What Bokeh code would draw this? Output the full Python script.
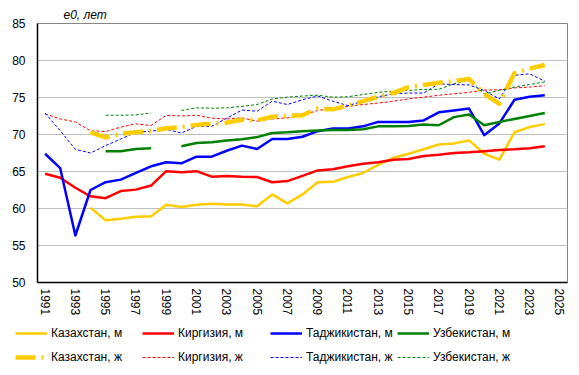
import numpy as np
from bokeh.plotting import figure
from bokeh.layouts import column
from bokeh.models import Range1d, FixedTicker, Legend, LegendItem
from bokeh.embed import file_html
from bokeh.resources import INLINE

nan = float("nan")

years = list(range(1991, 2025))
tick_years = list(range(1991, 2026, 2))
tick_labels = [str(y) for y in tick_years]
y_ticks = [50, 55, 60, 65, 70, 75, 80, 85]

# Male life expectancy
kaz_m = [nan, nan, nan, 60.1, 58.4, 58.6, 58.9, 58.95, 60.5, 60.2, 60.5, 60.65,
         60.55, 60.55, 60.3, 61.9, 60.7, 61.9, 63.55, 63.6, 64.25, 64.8, 65.9,
         66.85, 67.4, 68.0, 68.65, 68.8, 69.2, 67.4, 66.6, 70.3, 71.0, 71.4]
kir_m = [64.7, 64.15, 62.8, 61.65, 61.4, 62.35, 62.55, 63.1, 65.05, 64.9, 65.05, 64.3,
         64.4, 64.3, 64.25, 63.55, 63.7, 64.4, 65.15, 65.3, 65.7, 66.05, 66.25,
         66.6, 66.7, 67.1, 67.25, 67.5, 67.6, 67.75, 67.9, 68.0, 68.15, 68.4]
taj_m = [67.4, 65.45, 56.35, 62.5, 63.55, 63.9, 64.8, 65.7, 66.25, 66.1, 67.0, 67.0,
         67.8, 68.5, 68.05, 69.4, 69.4, 69.7, 70.45, 70.8, 70.8, 71.1, 71.7,
         71.7, 71.7, 71.9, 73.0, 73.25, 73.5, 69.9, 71.5, 74.7, 75.1, 75.3]
uzb_m = [nan, nan, nan, nan, 67.75, 67.75, 68.05, 68.15, nan, 68.4, 68.85, 68.95,
         69.2, 69.35, 69.65, 70.2, 70.3, 70.45, 70.55, 70.6, 70.6, 70.7, 71.1,
         71.1, 71.15, 71.35, 71.25, 72.35, 72.7, 71.25, 71.7, 72.1, 72.5, 72.9]

# Female life expectancy
kaz_f = [nan, nan, nan, 70.3, 69.6, 70.1, 70.3, 70.45, 70.85, 71.0, 71.3, 71.45,
         71.6, 72.0, 71.9, 72.4, 72.5, 72.6, 73.5, 73.4, 73.9, 74.5, 75.1,
         75.6, 76.4, 76.7, 77.0, 77.2, 77.5, 75.5, 74.15, 78.3, 78.9, 79.4]
kir_f = [72.8, 72.1, 71.7, 70.5, 70.4, 71.0, 71.45, 71.2, 72.6, 72.5, 72.6, 72.2,
         72.1, 72.25, 71.8, 72.1, 72.25, 72.6, 73.25, 73.5, 73.8, 74.05, 74.25,
         74.5, 74.8, 75.05, 75.3, 75.5, 75.7, 76.0, 76.05, 76.3, 76.4, 76.6]
taj_f = [72.9, 70.5, 68.0, 67.5, 68.5, 69.4, 70.3, 70.45, 70.7, 70.2, 71.1, 71.1,
         72.2, 73.3, 73.15, 74.5, 74.05, 74.7, 75.2, 74.5, 73.9, 74.5, 75.1,
         75.5, 75.6, 75.6, 76.85, 76.75, 76.7, 75.95, 74.8, 78.0, 78.2, 77.2]
uzb_f = [nan, nan, nan, nan, 72.6, 72.6, 72.65, 72.9, nan, 73.25, 73.6, 73.55,
         73.6, 73.8, 74.05, 74.8, 75.05, 75.2, 75.3, 75.05, 75.1, 75.4, 75.7,
         75.85, 75.95, 76.1, 76.1, 76.85, 77.3, 75.5, 75.95, 76.4, 76.75, 77.1]

labels_m = ["Казахстан, м", "Киргизия, м", "Таджикистан, м", "Узбекистан, м"]
labels_f = ["Казахстан, ж", "Киргизия, ж", "Таджикистан, ж", "Узбекистан, ж"]
title_text = "e0, лет"

YELLOW, RED, BLUE, GREEN = "#FFCC00", "#FF0000", "#0000FF", "#008000"
colors = [YELLOW, RED, BLUE, GREEN]
FONT = "Liberation Sans"

# style of each series: (width, dash) for male and female
male_style = [(2.5, "solid")] * 4
female_style = [(4.5, "20 6 2 6"), (1, "3 2"), (1, "3 2"), (1, "3 2")]

p = figure(width=579, height=321, output_backend="svg", toolbar_location=None,
           x_range=Range1d(1990.5, 2025.5), y_range=Range1d(50, 85),
           min_border_left=37, min_border_right=12, min_border_top=23,
           min_border_bottom=39)
p.frame_align = False
p.background_fill_color = "white"
p.border_fill_color = "white"
p.outline_line_color = "#868686"
p.outline_line_width = 1

p.title.text = title_text
p.title.align = "left"
p.title.offset = 26
p.title.text_font = FONT
p.title.text_font_size = "12px"
p.title.text_font_style = "italic"
p.title.text_color = "black"
p.title.standoff = 4

p.xgrid.visible = False
p.ygrid.ticker = FixedTicker(ticks=y_ticks)
p.ygrid.grid_line_color = "#bfbfbf"
p.ygrid.grid_line_width = 1

p.yaxis.ticker = FixedTicker(ticks=y_ticks)
p.xaxis.ticker = FixedTicker(ticks=tick_years)
p.xaxis.major_label_overrides = {y: s for y, s in zip(tick_years, tick_labels)}
p.xaxis.major_label_orientation = "vertical"
for ax in (p.xaxis, p.yaxis):
    ax.axis_line_color = "black"
    ax.axis_line_width = 1.5
    ax.major_tick_line_color = None
    ax.minor_tick_line_color = None
    ax.major_tick_out = 0
    ax.major_tick_in = 0
    ax.major_label_text_font = FONT
    ax.major_label_text_font_size = "12px"
    ax.major_label_text_color = "black"
p.yaxis.major_label_standoff = 12
p.xaxis.major_label_standoff = 6

x = np.array(years, dtype=float)

def ln(fig, vals, color, style):
    width, dash = style
    return fig.line(x, np.array(vals, dtype=float), line_color=color,
                    line_width=width, line_dash=dash, line_join="round")

males = [kaz_m, kir_m, taj_m, uzb_m]
females = [kaz_f, kir_f, taj_f, uzb_f]
for vals, c, st in zip(males, colors, male_style):
    ln(p, vals, c, st)
order_f = [1, 2, 3, 0]  # thick Kazakhstan line drawn last
for i in order_f:
    ln(p, females[i], colors[i], female_style[i])

# Legend strip below the chart (its own ranges keep the series out of view,
# the renderers only provide the legend swatches)
leg = figure(width=579, height=54, output_backend="svg", toolbar_location=None,
             x_range=Range1d(0, 1), y_range=Range1d(0, 1),
             x_axis_type=None, y_axis_type=None,
             min_border=0, min_border_left=0, min_border_right=0,
             min_border_top=0, min_border_bottom=0)
leg.frame_align = False
leg.outline_line_color = None
leg.background_fill_color = "white"
leg.border_fill_color = "white"
leg.grid.visible = False

x_offsets = [15, 142, 270, 397]
for i in range(4):
    rm = ln(leg, males[i], colors[i], male_style[i])
    rf = ln(leg, females[i], colors[i], female_style[i])
    lg = Legend(items=[LegendItem(label=labels_m[i], renderers=[rm]),
                       LegendItem(label=labels_f[i], renderers=[rf])],
                location=(x_offsets[i], 6), orientation="vertical",
                glyph_width=32, glyph_height=24, label_height=24, spacing=0,
                padding=0, margin=0, label_standoff=4,
                border_line_color=None, background_fill_alpha=0,
                label_text_font=FONT, label_text_font_size="12px",
                label_text_color="black")
    leg.add_layout(lg)

layout = column(p, leg, spacing=0)
open("out.html", "w").write(file_html(layout, INLINE))
